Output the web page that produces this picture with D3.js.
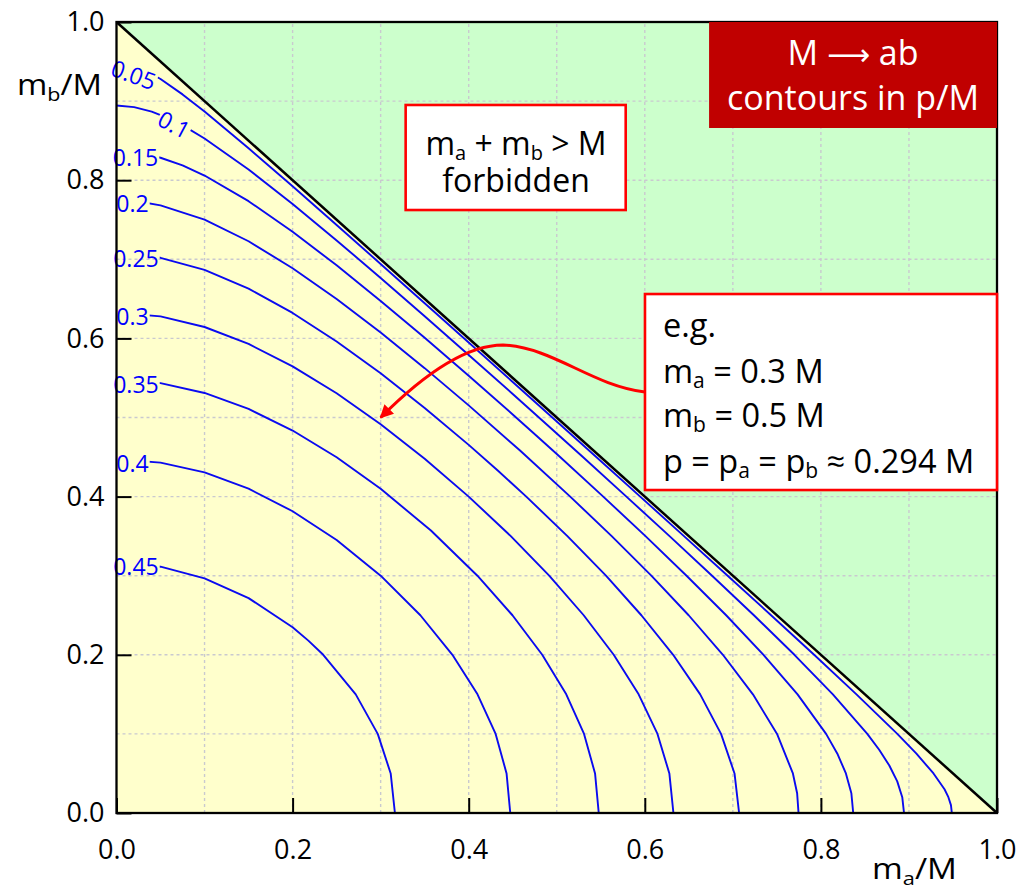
<!DOCTYPE html>
<html>
<head>
<meta charset="utf-8">
<script src="https://cdn.jsdelivr.net/npm/d3@7"></script>
<style>
	body { margin: 0; background: #fff; }
	text { font-family: "Open Sans", sans-serif; }
</style>
</head>
<body>
<svg class="kin-chart" width="1020" height="893"></svg>
<script>
// contour levels in p/M
let levels = [0.05, 0.1, 0.15, 0.2, 0.25, 0.3, 0.35, 0.4, 0.45];
let levelLabels = ['0.05', '0.1', '0.15', '0.2', '0.25', '0.3', '0.35', '0.4', '0.45'];

// contour lines, [m_a/M, m_b/M]
let c005 = [[0,.9487],[.01,.9477],[.02,.9448],[.03,.9404],[.05,.9279],[.075,.9085],[.1,.8868],[.15,.8404],[.2,.7923],[.25,.7434],[.3,.6941],[.35,.6445],[.4,.5948],[.45,.5449],[.4975,.4975],[.5449,.45],[.5948,.4],[.6445,.35],[.6941,.3],[.7434,.25],[.7923,.2],[.8404,.15],[.8868,.1],[.9085,.075],[.9279,.05],[.9404,.03],[.9448,.02],[.9477,.01],[.9487,0]];
let c010 = [[0,.8944],[.02,.8924],[.04,.8867],[.06,.8777],[.08,.8662],[.1,.8527],[.15,.8136],[.2,.7699],[.25,.7239],[.3,.6764],[.35,.6281],[.4,.5791],[.45,.5297],[.4899,.4899],[.5297,.45],[.5791,.4],[.6281,.35],[.6764,.3],[.7239,.25],[.7699,.2],[.8136,.15],[.8527,.1],[.8662,.08],[.8777,.06],[.8867,.04],[.8924,.02],[.8944,0]];
let c015 = [[0,.8367],[.025,.8346],[.05,.8284],[.075,.8187],[.1,.8059],[.15,.7735],[.2,.7348],[.25,.6924],[.3,.6474],[.35,.6008],[.4,.5528],[.45,.5038],[.477,.477],[.5038,.45],[.5528,.4],[.6008,.35],[.6474,.3],[.6924,.25],[.7348,.2],[.7735,.15],[.8059,.1],[.8187,.075],[.8284,.05],[.8346,.025],[.8367,0]];
let c020 = [[0,.7746],[.025,.773],[.05,.7682],[.1,.7502],[.15,.7228],[.2,.6887],[.25,.6498],[.3,.6074],[.35,.5624],[.4,.5153],[.4583,.4583],[.5153,.4],[.5624,.35],[.6074,.3],[.6498,.25],[.6887,.2],[.7228,.15],[.7502,.1],[.7682,.05],[.773,.025],[.7746,0]];
let c025 = [[0,.7071],[.05,.7019],[.1,.6866],[.15,.6629],[.2,.6322],[.25,.5961],[.3,.5559],[.35,.5121],[.4,.4654],[.433,.433],[.4654,.4],[.5121,.35],[.5559,.3],[.5961,.25],[.6322,.2],[.6629,.15],[.6866,.1],[.7019,.05],[.7071,0]];
let c030 = [[0,.6325],[.05,.6279],[.1,.6144],[.15,.593],[.2,.5647],[.25,.5306],[.3,.4914],[.35,.4478],[.4,.4],[.4478,.35],[.4914,.3],[.5306,.25],[.5647,.2],[.593,.15],[.6144,.1],[.6279,.05],[.6325,0]];
let c035 = [[0,.5477],[.05,.5435],[.1,.531],[.15,.5108],[.2,.4835],[.25,.4497],[.3,.4099],[.3571,.3571],[.4099,.3],[.4497,.25],[.4835,.2],[.5108,.15],[.531,.1],[.5435,.05],[.5477,0]];
let c040 = [[0,.4472],[.05,.443],[.1,.4306],[.15,.41],[.2,.3815],[.25,.3451],[.3,.3],[.3451,.25],[.3815,.2],[.41,.15],[.4306,.1],[.443,.05],[.4472,0]];
let c045 = [[0,.3162],[.05,.3114],[.1,.2967],[.15,.2717],[.2,.2348],[.2179,.2179],[.2348,.2],[.2717,.15],[.2967,.1],[.3114,.05],[.3162,0]];
let contourLines = [c005, c010, c015, c020, c025, c030, c035, c040, c045];

// axis ticks and grid
let tickValues = [0, 0.2, 0.4, 0.6, 0.8, 1.0];
let gridValues = [0.1, 0.2, 0.3, 0.4, 0.5, 0.6, 0.7, 0.8, 0.9];

// worked example point
let exampleMa = 0.3;
let exampleMb = 0.5;

let margin = { top: 22, right: 23, bottom: 80, left: 116.5 };
let width = 1020 - margin.left - margin.right;
let height = 893 - margin.top - margin.bottom;

let x = d3.scaleLinear().domain([0, 1]).range([margin.left, margin.left + width]);
let y = d3.scaleLinear().domain([0, 1]).range([margin.top + height, margin.top]);

let svg = d3.select('.kin-chart');
let defs = svg.append('defs');

// background regions: allowed (yellow) and forbidden (green)
let corner = function(p) { return [x(p[0]), y(p[1])]; };
svg.append('polygon')
	.attr('points', [[0, 0], [1, 0], [0, 1]].map(corner).join(' '))
	.style('fill', '#ffffcc');
svg.append('polygon')
	.attr('points', [[1, 0], [1, 1], [0, 1]].map(corner).join(' '))
	.style('fill', '#ccffcc');

// dashed grid
let grid = svg.append('g')
	.style('stroke', '#c9c9cf')
	.style('stroke-width', 1.4)
	.style('stroke-dasharray', '3,3');
grid.selectAll('.vgrid').data(gridValues).enter().append('line')
	.attr('x1', function(d) { return x(d); }).attr('x2', function(d) { return x(d); })
	.attr('y1', y(0)).attr('y2', y(1));
grid.selectAll('.hgrid').data(gridValues).enter().append('line')
	.attr('y1', function(d) { return y(d); }).attr('y2', function(d) { return y(d); })
	.attr('x1', x(0)).attr('x2', x(1));

// mask hides contour line under its label
let mask = defs.append('mask')
	.attr('id', 'label-mask')
	.attr('maskUnits', 'userSpaceOnUse')
	.attr('x', 0).attr('y', 0).attr('width', 1020).attr('height', 893);
mask.append('rect').attr('width', 1020).attr('height', 893).style('fill', 'white');

let line = d3.line()
	.x(function(d) { return x(d[0]); })
	.y(function(d) { return y(d[1]); });

svg.append('g')
	.attr('mask', 'url(#label-mask)')
	.selectAll('.contour')
	.data(contourLines)
	.enter()
	.append('path')
	.attr('class', 'contour')
	.attr('d', line)
	.style('fill', 'none')
	.style('stroke', '#0a0af0')
	.style('stroke-width', 1.9)
	.style('stroke-linejoin', 'round');

// label spots: centre [m_a, m_b] and rotation
let labelSpots = [[0.0193, 0.933, 20], [0.0653, 0.87, 28], [0.0216, 0.828, 0], [0.0182, 0.770, 0], [0.0221, 0.7004, 0],
	[0.0182, 0.6271, 0], [0.0221, 0.5411, 0], [0.0182, 0.4412, 0], [0.0221, 0.311, 0]];

let labelG = svg.append('g');
levels.forEach(function(lv, i) {
	let s = labelSpots[i];
	let tr = 'translate(' + x(s[0]) + ',' + y(s[1]) + ') rotate(' + s[2] + ')';
	let t = labelG.append('text')
		.attr('transform', tr)
		.attr('text-anchor', 'middle')
		.attr('dy', '0.36em')
		.style('font-size', '23px')
		.style('fill', '#0000ff')
		.text(levelLabels[i]);
	let bb = t.node().getBBox();
	mask.append('rect')
		.attr('transform', tr)
		.attr('x', bb.x - 1).attr('y', bb.y + 3)
		.attr('width', bb.width + 2).attr('height', bb.height - 6)
		.style('fill', 'black');
});

// kinematic limit m_a + m_b = M
svg.append('line')
	.attr('x1', x(0)).attr('y1', y(1))
	.attr('x2', x(1)).attr('y2', y(0))
	.style('stroke', 'black')
	.style('stroke-width', 2.5);

// axes
let fmt = d3.format('.1f');
let yAxis = svg.append('g')
	.attr('transform', 'translate(' + x(0) + ',0)')
	.call(d3.axisLeft(y).tickValues(tickValues).tickFormat(fmt).tickSizeInner(-15).tickSizeOuter(0).tickPadding(12));
let xAxis = svg.append('g')
	.attr('transform', 'translate(0,' + y(0) + ')')
	.call(d3.axisBottom(x).tickValues(tickValues).tickFormat(fmt).tickSizeInner(-15).tickSizeOuter(0).tickPadding(27));
[xAxis, yAxis].forEach(function(ax) {
	ax.select('.domain').remove();
	ax.selectAll('.tick line').style('stroke', 'black').style('stroke-width', 2);
	ax.selectAll('.tick text')
		.style('font-family', '"Open Sans", sans-serif')
		.style('font-size', '27px')
		.style('fill', 'black');
});

// frame
svg.append('rect')
	.attr('x', x(0)).attr('y', y(1))
	.attr('width', x(1) - x(0)).attr('height', y(0) - y(1))
	.style('fill', 'none')
	.style('stroke', 'black')
	.style('stroke-width', 2.3);

// axis titles, stretched wide like the original
function axisTitle(main, sub, px, baseline, targetWidth) {
	let t = svg.append('text')
		.style('font-size', '29px')
		.style('fill', 'black');
	t.append('tspan').text(main);
	t.append('tspan').attr('dy', 6).style('font-size', '19px').text(sub);
	t.append('tspan').attr('dy', -6).text('/M');
	let w = t.node().getBBox().width;
	t.attr('transform', 'translate(' + px + ',' + baseline + ') scale(' + (targetWidth / w) + ',1)');
}
axisTitle('m', 'b', 17, 95, 85);
axisTitle('m', 'a', 872, 879, 85);

// arrow from example box to (0.3, 0.5), two cubic pieces in data units
let arrowStart = [0.6002, 0.5322];
let arrowBends = [
	[[0.5378, 0.5411], [0.498, 0.5879], [0.439, 0.5917]],
	[[0.3958, 0.5917], [0.3447, 0.5499], [exampleMa, exampleMb]]
];

defs.append('marker')
	.attr('id', 'arrowhead')
	.attr('viewBox', '0 0 10 10')
	.attr('refX', 9).attr('refY', 5)
	.attr('markerWidth', 4.5).attr('markerHeight', 4.5)
	.attr('markerUnits', 'strokeWidth')
	.attr('orient', 'auto')
	.append('path')
	.attr('d', 'M0,0 L10,5 L0,10 Z')
	.style('fill', '#ff0000');

let ap = d3.path();
ap.moveTo(x(arrowStart[0]), y(arrowStart[1]));
arrowBends.forEach(function(b) {
	ap.bezierCurveTo(x(b[0][0]), y(b[0][1]), x(b[1][0]), y(b[1][1]), x(b[2][0]), y(b[2][1]));
});
svg.append('path')
	.attr('d', ap.toString())
	.attr('marker-end', 'url(#arrowhead)')
	.style('fill', 'none')
	.style('stroke', '#ff0000')
	.style('stroke-width', 3);

// title box
svg.append('rect')
	.attr('x', x(0.673)).attr('y', y(1))
	.attr('width', x(1) - x(0.673)).attr('height', y(0.866) - y(1))
	.style('fill', '#c00000');
let title = svg.append('text')
	.attr('text-anchor', 'middle')
	.style('font-size', '34px')
	.style('fill', 'white');
let t1 = title.append('tspan').attr('x', 853).attr('y', 65);
t1.append('tspan').text('M ');
t1.append('tspan').style('font-family', '"DejaVu Sans", sans-serif').style('font-size', '30px').text('\u27F6');
t1.append('tspan').text(' ab');
title.append('tspan').attr('x', 853).attr('y', 110).text('contours in p/M');

// forbidden region box
svg.append('rect')
	.attr('x', x(0.3284)).attr('y', y(0.8951))
	.attr('width', x(0.5783) - x(0.3284)).attr('height', y(0.7623) - y(0.8951))
	.style('fill', 'white')
	.style('stroke', '#ff0000')
	.style('stroke-width', 2.6);
let fb = svg.append('text')
	.attr('text-anchor', 'middle')
	.style('font-size', '32px')
	.style('fill', 'black');
let fb1 = fb.append('tspan').attr('x', 516).attr('y', 155);
fb1.append('tspan').text('m');
fb1.append('tspan').attr('dy', 5).style('font-size', '20px').text('a');
fb1.append('tspan').attr('dy', -5).text(' + m');
fb1.append('tspan').attr('dy', 5).style('font-size', '20px').text('b');
fb1.append('tspan').attr('dy', -5).text(' > M');
fb.append('tspan').attr('x', 516).attr('y', 192).text('forbidden');

// example box
svg.append('rect')
	.attr('x', x(0.6002)).attr('y', y(0.6561))
	.attr('width', x(1) - x(0.6002)).attr('height', y(0.4083) - y(0.6561))
	.style('fill', 'white')
	.style('stroke', '#ff0000')
	.style('stroke-width', 2.6);
let eg = svg.append('text')
	.style('font-size', '32.5px')
	.style('fill', 'black');
eg.append('tspan').attr('x', 663).attr('y', 337).text('e.g.');
let l2 = eg.append('tspan').attr('x', 663).attr('y', 383);
l2.append('tspan').text('m');
l2.append('tspan').attr('dy', 5).style('font-size', '21px').text('a');
l2.append('tspan').attr('dy', -5).text(' = ' + exampleMa + ' M');
let l3 = eg.append('tspan').attr('x', 663).attr('y', 427);
l3.append('tspan').text('m');
l3.append('tspan').attr('dy', 5).style('font-size', '21px').text('b');
l3.append('tspan').attr('dy', -5).text(' = ' + exampleMb + ' M');
let l4 = eg.append('tspan').attr('x', 663).attr('y', 473);
l4.append('tspan').text('p = p');
l4.append('tspan').attr('dy', 5).style('font-size', '21px').text('a');
l4.append('tspan').attr('dy', -5).text(' = p');
l4.append('tspan').attr('dy', 5).style('font-size', '21px').text('b');
l4.append('tspan').attr('dy', -5).text(' \u2248 0.294 M');
</script>
</body>
</html>
